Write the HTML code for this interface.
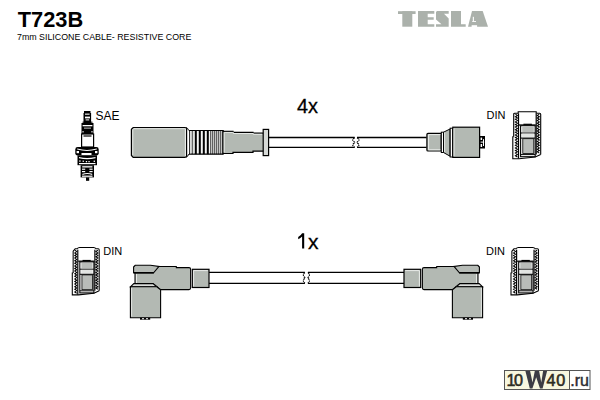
<!DOCTYPE html>
<html><head><meta charset="utf-8"><style>
html,body{margin:0;padding:0;background:#fff;}
body{width:600px;height:400px;overflow:hidden;position:relative;font-family:"Liberation Sans",sans-serif;}
svg{position:absolute;left:0;top:0;}
</style></head><body>
<svg width="600" height="400" viewBox="0 0 600 400">
<defs>
<g id="dinb">
  <path d="M3.00,3.00 L5.00,4.30 L3.00,5.60 L5.00,6.90 L3.00,8.20 L5.00,9.50 L3.00,10.80 L5.00,12.10 L3.00,13.40 L5.00,14.70 L3.00,16.00 L5.00,17.30 L3.00,18.60 L5.00,19.90 L3.00,21.20 L5.00,22.50 L3.00,23.80 L5.00,25.10 L3.00,26.40 L5.00,27.70 L3.00,29.00 L5.00,30.30 L3.00,31.60 L5.00,32.90 L3.00,34.20 L5.00,35.50 L3.00,36.80 L5.00,38.10 L3.00,39.40 L5.00,40.70 L3.00,42.00 L5.00,43.30 L3.00,44.60 L5.00,45.90" fill="none" stroke="#000" stroke-width="1.05"/>
  <rect x="5.5" y="2.4" width="1.2" height="45" fill="#000"/>
  <path d="M26.90,3.00 L24.90,4.30 L26.90,5.60 L24.90,6.90 L26.90,8.20 L24.90,9.50 L26.90,10.80 L24.90,12.10 L26.90,13.40 L24.90,14.70 L26.90,16.00 L24.90,17.30 L26.90,18.60 L24.90,19.90 L26.90,21.20 L24.90,22.50 L26.90,23.80 L24.90,25.10 L26.90,26.40 L24.90,27.70 L26.90,29.00 L24.90,30.30 L26.90,31.60 L24.90,32.90 L26.90,34.20 L24.90,35.50 L26.90,36.80 L24.90,38.10 L26.90,39.40 L24.90,40.70 L26.90,42.00" fill="none" stroke="#000" stroke-width="1.05"/>
  <rect x="23.2" y="2.4" width="1.2" height="41" fill="#000"/>
  <path d="M1.3,25.7 H0.4 V47.6 H6.7 L22.8,45.9 L28.3,43.4" fill="none" stroke="#000" stroke-width="1.1"/>
  <!-- divider -->
  <path d="M6.6,13.9 H23.4" stroke="#000" stroke-width="1.3"/>
  <path d="M11,13.2 H19.5" stroke="#000" stroke-width="1.2"/>
  <!-- inner piece -->
  <rect x="8.2" y="14.6" width="14.6" height="31" fill="#fff" stroke="#000" stroke-width="1.1"/>
  <rect x="9.8" y="15.6" width="11.6" height="5.4" fill="#b9bcb9"/>
  <path d="M8.2,21.9 H22.8" stroke="#000" stroke-width="1"/>
  <rect x="9.8" y="22.6" width="11.6" height="3.6" fill="#e2e4e2"/>
  <path d="M8.2,27 H22.8" stroke="#000" stroke-width="1.1"/>
  <rect x="10.4" y="27.6" width="11" height="14.8" fill="#b9bcb9" stroke="#000" stroke-width="0.8"/>
  <path d="M8.2,43.5 H22.8" stroke="#000" stroke-width="1"/>
</g>
<g id="din"><use href="#dinb"/><path d="M1.3,25.7 V3.2 Q1.3,2.1 2.4,2.1 H5.8 V0.6 H23.8 V2.1 H27.2 Q28.3,2.1 28.3,3.2 V43.4" fill="none" stroke="#000" stroke-width="1.1"/></g>
<g id="din2"><use href="#dinb"/><path d="M1.3,25.7 V3.9 L3.4,1.5 H5.4 Q6.3,0.2 8,0.2 H22.5 Q24.2,0.2 25,1.5 H27.3 Q28.3,1.5 28.3,2.6 V43.4" fill="none" stroke="#000" stroke-width="1.1"/></g>
<g id="elbow">
  <!-- horizontal body -->
  <path d="M135,266.5 H176.3 V267.6 H189 Q190.6,267.6 190.6,269.2 V288 Q190.6,289.6 189,289.6 H160.6 L153,283.6 H135 Z" fill="#b3b9b3" stroke="#000" stroke-width="1.05"/>
  <!-- cap -->
  <path d="M133.6,267 L135.2,265.3 H150.5 L159,266.4 L153.6,272.8 H133.6 Z" fill="#b6bbb6" stroke="#000" stroke-width="1.1"/>
  <path d="M133.6,272.8 H153.8" stroke="#000" stroke-width="1.6"/>
  <path d="M136.5,274 V283" stroke="#e8ebe8" stroke-width="1"/>
  <!-- collar -->
  <path d="M130.4,286.8 L133.8,283.6 H153 L156.8,286.8 Z" fill="#dadddA" stroke="#000" stroke-width="1.1"/>
  <!-- vertical box -->
  <path d="M130.4,286.8 H156.8 L160.6,289.8 V317.7 H130.4 Z" fill="#b3b9b3" stroke="#000" stroke-width="1.1"/>
  <path d="M131.6,288 V316.5" stroke="#e0e3e0" stroke-width="1"/>
  <!-- terminal -->
  <rect x="140" y="317.7" width="10.2" height="2" fill="#000"/>
  <rect x="142" y="318.2" width="2" height="1" fill="#fff"/>
  <rect x="146" y="318.2" width="2" height="1" fill="#fff"/>
  <!-- small block -->
  <rect x="192.3" y="269.3" width="16.7" height="18.2" fill="#b3b9b3" stroke="#000" stroke-width="1.2"/>
  <path d="M193.6,270.6 V286.3 M193.6,270.6 H207.8" stroke="#e8ebe8" stroke-width="1"/>
</g>
</defs>

<!-- Title -->
<text x="17.8" y="26.6" font-family="Liberation Sans" font-weight="bold" font-size="22.6" fill="#000" textLength="65.4" lengthAdjust="spacingAndGlyphs">T723B</text>
<text x="17" y="40" font-family="Liberation Sans" font-size="9" fill="#000" textLength="174.4" lengthAdjust="spacingAndGlyphs">7mm SILICONE CABLE- RESISTIVE CORE</text>

<!-- TESLA logo -->
<g fill="#abb1ab">
  <rect x="398" y="11.2" width="17.6" height="2.8"/>
  <rect x="402.3" y="11.2" width="10" height="15.5"/>
  <path d="M418,11 H434.3 V13.7 H427.7 V17.3 H433.7 V19.7 H427.7 V24.3 H434.3 V26.7 H418 Z"/>
  <path d="M436,12 L437,11 H448.7 V13.7 H444 L448.7,18.5 V26.7 H436 V24.3 H441.5 L436,19.5 Z"/>
  <path d="M451,11 H461 V24.3 H465.7 V26.7 H451 Z"/>
  <path d="M472,11 H482.7 L488,26.7 H468 Z"/>
</g>
<g fill="#fff"><rect x="472.8" y="16.8" width="1.1" height="4.4"/><rect x="472.2" y="21" width="3.8" height="0.9"/><rect x="471.6" y="25.2" width="5.5" height="1.8"/></g>

<!-- Spark plug -->
<g>
  <rect x="84" y="111" width="6.5" height="2.2" fill="#000"/>
  <rect x="83.5" y="113" width="7.6" height="10" fill="#000"/>
  <rect x="85" y="113.6" width="4.6" height="1.1" fill="#fff"/>
  <rect x="85" y="116.6" width="5" height="1.8" fill="#fff"/>
  <rect x="85.6" y="119.4" width="3.6" height="1" fill="#fff"/>
  <rect x="81.5" y="123" width="12" height="11.4" fill="#000"/>
  <rect x="82.6" y="121.6" width="1.2" height="1.2" fill="#000"/>
  <rect x="91.2" y="121.6" width="1.2" height="1.2" fill="#000"/>
  <rect x="82.6" y="125" width="9.8" height="1.3" fill="#fff"/>
  <rect x="84" y="127.4" width="7" height="1.6" fill="#777"/>
  <rect x="82.4" y="131.2" width="1.3" height="1.2" fill="#fff"/>
  <rect x="91.3" y="131.2" width="1.3" height="1.2" fill="#fff"/>
  <rect x="81.6" y="134" width="12" height="13" fill="#fff" stroke="#000" stroke-width="1.2"/>
  <rect x="83.5" y="135.4" width="8" height="1.2" fill="#000"/>
  <!-- hex -->
  <rect x="75.3" y="147" width="23.4" height="8.6" rx="2.4" fill="#000"/>
  <path d="M77.2,148.6 Q87,151.2 96.8,148.6 L96.8,149.6 Q87,152.2 77.2,149.6 Z" fill="#fff"/>
  <rect x="76.6" y="151" width="2.4" height="2.2" fill="#fff"/>
  <rect x="95" y="151" width="2.4" height="2.2" fill="#fff"/>
  <rect x="81.5" y="153" width="10" height="2" fill="#fff"/>
  <!-- body -->
  <rect x="77.5" y="155.4" width="19.5" height="9.8" fill="#000"/>
  <path d="M79,157 Q87,159 95.5,157 V158.2 Q87,160.2 79,158.2 Z" fill="#fff"/>
  <rect x="79.2" y="160.4" width="1.4" height="1.3" fill="#fff"/>
  <rect x="82.6" y="160.6" width="1.3" height="1.3" fill="#fff"/>
  <rect x="85.8" y="161" width="1.3" height="1.3" fill="#fff"/>
  <rect x="88.4" y="161" width="1.3" height="1.3" fill="#fff"/>
  <rect x="93.6" y="160.6" width="1.4" height="1.3" fill="#fff"/>
  <rect x="79" y="163" width="16.5" height="1.2" fill="#fff"/>
  <!-- thread -->
  <rect x="80.6" y="165.2" width="13.4" height="12.2" fill="#000"/>
  <rect x="82.2" y="166.2" width="10.2" height="1.3" fill="#fff"/>
  <rect x="82" y="168.6" width="3.2" height="1.2" fill="#fff"/>
  <rect x="89.4" y="168.6" width="3.2" height="1.2" fill="#fff"/>
  <rect x="82" y="171" width="3.2" height="1.2" fill="#fff"/>
  <rect x="89.4" y="171" width="3.2" height="1.2" fill="#fff"/>
  <path d="M82.4,173.8 Q87.3,172 92.2,173.8 V174.9 Q87.3,173.1 82.4,174.9 Z" fill="#fff"/>
  <rect x="82" y="175.6" width="10.5" height="1.2" fill="#fff"/>
  <rect x="86" y="177.4" width="3.2" height="3.4" fill="#000"/>
</g>
<text x="95.6" y="119.7" font-family="Liberation Sans" font-size="12" fill="#000">SAE</text>

<!-- Top cable: boot -->
<path d="M133.2,127.5 H185 Q186.6,127.5 186.6,129.2 V155.6 Q186.6,157.3 185,157.3 H133.2 L131.4,155.5 V129.3 Z" fill="#b3b9b3" stroke="#000" stroke-width="1.2"/>
<path d="M132.8,155 V129.8 L133.8,128.7 H184.8" fill="none" stroke="#e3e6e3" stroke-width="1"/>
<path d="M185.4,128.6 V156.2" fill="none" stroke="#eef0ee" stroke-width="1"/>
<path d="M186,127.6 Q188,128 188.6,130.4 M186,157.2 Q188,156.8 188.6,154.2" fill="none" stroke="#000" stroke-width="1"/>
<!-- ribs -->
<rect x="189" y="130.4" width="34.4" height="23.8" fill="#f4f5f4"/>
<path d="M189,130.5 H223.4 M189,154.1 H223.4" stroke="#000" stroke-width="1.1"/>
<g fill="#000">
  <rect x="189" y="130.4" width="0.9" height="23.8"/>
  <rect x="191.8" y="130.4" width="0.9" height="23.8"/>
  <rect x="194.8" y="130.4" width="2" height="23.8"/>
  <rect x="198.8" y="130.4" width="2" height="23.8"/>
  <rect x="202.8" y="130.4" width="2" height="23.8"/>
  <rect x="206.8" y="130.4" width="2" height="23.8"/>
  <rect x="210.4" y="130.4" width="0.8" height="23.8"/>
  <rect x="212.4" y="130.4" width="0.8" height="23.8"/>
  <rect x="214.4" y="130.4" width="0.8" height="23.8"/>
  <rect x="216.4" y="130.4" width="0.8" height="23.8"/>
  <rect x="218.4" y="130.4" width="0.8" height="23.8"/>
  <rect x="220.4" y="130.4" width="0.8" height="23.8"/>
  <rect x="222.4" y="130.2" width="1.4" height="24.2"/>
</g>
<path d="M190.3,131.2 V153.4 M193.2,131.2 V153.4" stroke="#c8ccc8" stroke-width="0.8"/>
<!-- tapered section -->
<path d="M223,131.3 H233 V132.4 H253 V133.2 H264.5 V151.2 H253 V152.4 H233 V153.5 H223 Z" fill="#b3b9b3" stroke="#000" stroke-width="1.2"/>
<path d="M224.2,152.4 V132.4 H233.4 V133.5 H253.4 V134.3 H262.4" fill="none" stroke="#e6e9e6" stroke-width="1"/>
<!-- flange -->
<rect x="263.2" y="129.4" width="5.4" height="26.2" fill="#d6d9d6" stroke="#000" stroke-width="1.2"/>
<!-- cable -->
<path d="M268.6,137.5 H354.7 M357,137.5 H426.6 M268.6,147.3 H354.7 M357,147.3 H426.6" stroke="#000" stroke-width="1.35"/>
<path d="M354.7,137.8 Q351.3,139.6 353.8,141.6 Q355.6,142.5 353.8,143.4 Q351.3,145.4 354.7,147.2 M357,137.8 Q360.4,139.6 357.9,141.6 Q356.1,142.5 357.9,143.4 Q360.4,145.4 357,147.2" fill="none" stroke="#000" stroke-width="1.1" stroke-dasharray="1.6 0.7"/>
<!-- right connector -->
<path d="M428,133.4 H441.2 V151 H428 Q426.9,151 426.9,149.9 V134.5 Q426.9,133.4 428,133.4 Z" fill="#b3b9b3" stroke="#000" stroke-width="1.2"/>
<path d="M440.5,134.6 H428.6 V149.8 H440.5" fill="none" stroke="#eceeec" stroke-width="1"/>
<rect x="441.3" y="132.2" width="2.2" height="20.3" fill="#fff" stroke="#000" stroke-width="1"/>
<path d="M443.5,132.2 L450,129 V156.2 L443.5,152.5 Z" fill="#b3b9b3" stroke="#000" stroke-width="1"/>
<path d="M444.6,132.6 V152" stroke="#e3e6e3" stroke-width="1"/>
<rect x="450.2" y="128.2" width="2.4" height="28.8" fill="#fff" stroke="#000" stroke-width="1"/>
<rect x="452.8" y="127.2" width="26.8" height="30.2" fill="#b3b9b3" stroke="#000" stroke-width="1.2"/>
<path d="M454,128.4 V156.2" stroke="#e3e6e3" stroke-width="1"/>
<rect x="480" y="136" width="5" height="12.5" fill="#000"/>
<rect x="480.6" y="137.6" width="1.5" height="2.4" fill="#fff"/>
<rect x="480.6" y="141.6" width="3.6" height="1" fill="#fff"/>
<rect x="483" y="139.2" width="1" height="6.8" fill="#fff"/>
<rect x="480.6" y="144" width="1.5" height="3" fill="#fff"/>

<text x="296.9" y="113.3" font-family="Liberation Sans" font-size="21" fill="#000" stroke="#000" stroke-width="0.3" textLength="21" lengthAdjust="spacingAndGlyphs">4x</text>
<text x="486.6" y="118.8" font-family="Liberation Sans" font-size="11" fill="#000">DIN</text>
<use href="#din" x="512.4" y="111.1"/>

<!-- Bottom cable -->
<use href="#din2" transform="translate(71.9,247.3) scale(0.965,1)"/>
<text x="103.2" y="254.6" font-family="Liberation Sans" font-size="11" fill="#000">DIN</text>
<path d="M302.1,233.3 H304.2 V248.5 H302.1 V236.6 Q300.6,238.2 298.2,239.2 V237 Q300.9,235.6 302.1,233.3 Z" fill="#000"/>
<text x="307.9" y="248.5" font-family="Liberation Sans" font-size="21" fill="#000" stroke="#000" stroke-width="0.3">x</text>
<text x="486" y="254.6" font-family="Liberation Sans" font-size="11" fill="#000">DIN</text>
<use href="#din2" transform="translate(510.6,247.3) scale(0.985,1)"/>

<use href="#elbow"/>
<use href="#elbow" transform="translate(613,0) scale(-1,1)"/>
<path d="M209,272.4 H304.9 M307.9,272.4 H404 M209,283.4 H304.9 M307.9,283.4 H404" stroke="#000" stroke-width="1.35"/>
<path d="M304.9,272.6 Q302.2,274.6 304.2,277 Q305.8,277.9 304.2,278.8 Q302.2,281 304.9,283.2 M307.9,272.6 Q310.6,274.6 308.6,277 Q307,277.9 308.6,278.8 Q310.6,281 307.9,283.2" fill="none" stroke="#000" stroke-width="1.1" stroke-dasharray="1.6 0.7"/>

<!-- 10W40.ru logo -->
<rect x="504.5" y="370.5" width="65" height="19" fill="#f7f7df" stroke="#555" stroke-width="1"/>
<rect x="569.5" y="370.5" width="20.5" height="19" fill="#fff" stroke="#555" stroke-width="1"/>
<g font-family="Liberation Sans" font-size="16.2" fill="#2c2c22" stroke="#2c2c22" stroke-width="0.55">
<text x="506.6" y="386">1</text><text x="513.9" y="386">0</text><text x="546.4" y="386">4</text><text x="556.2" y="386">0</text></g>
<path d="M525.4,370.9 H530.1 L532.5,382.4 L534.8,370.9 H539.1 L541.3,382.4 L543.1,370.9 H547.1 L542.6,388.6 H540 L536.2,377.2 L532.4,388.6 H529.8 Z" fill="#3c3c44"/>
<text x="570.3" y="385.6" font-family="Liberation Sans" font-size="16" fill="#2c2c33" stroke="#2c2c33" stroke-width="0.45">.ru</text>
</svg>
</body></html>
